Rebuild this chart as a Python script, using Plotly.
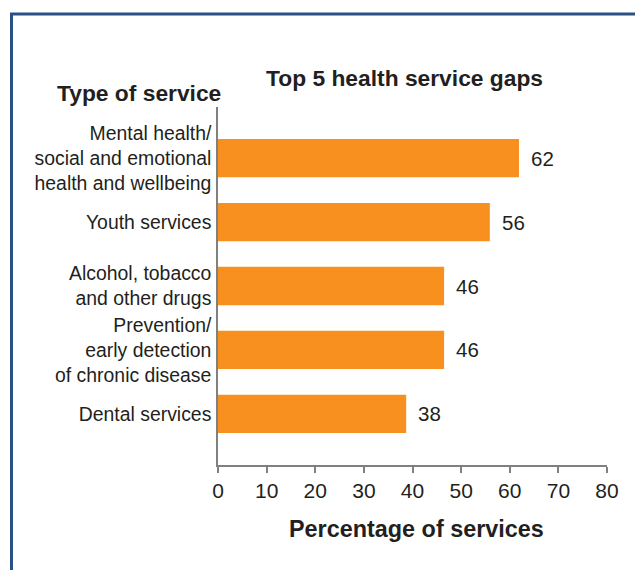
import plotly.graph_objects as go

categories = [
    "Mental health/<br>social and emotional<br>health and wellbeing",
    "Youth services",
    "Alcohol, tobacco<br>and other drugs",
    "Prevention/<br>early detection<br>of chronic disease",
    "Dental services",
]
bar_values = [61.9, 55.9, 46.5, 46.5, 38.7]
label_values = [62, 56, 46, 46, 38]
x_ticks = [0, 10, 20, 30, 40, 50, 60, 70, 80]

W, H = 635, 570
L, R, T, B = 218, 28, 107, 105
pw, ph = W - L - R, H - T - B

def px(x):
    return (x - L) / pw

def py(y):
    return (H - B - y) / ph

TXT = "#231f20"
FONT = "Liberation Sans, Arial, sans-serif"
BORDER = "#2b5083"

fig = go.Figure()
fig.add_trace(go.Bar(
    y=categories, x=bar_values, orientation="h",
    marker=dict(color="#f7901e", line=dict(width=0)),
    width=0.6, hoverinfo="skip",
))

annotations = []
for c, v, lab in zip(categories, bar_values, label_values):
    annotations.append(dict(x=v, y=c, xref="x", yref="y", text=str(lab),
                            showarrow=False, xanchor="left", yanchor="middle",
                            xshift=10, font=dict(size=20.5, color=TXT, family=FONT)))

annotations += [
    dict(x=px(404), y=py(78), xref="paper", yref="paper", text="<b>Top 5 health service gaps</b>",
         showarrow=False, xanchor="center", yanchor="middle", font=dict(size=22.8, color=TXT, family=FONT)),
    dict(x=px(223), y=py(93), xref="paper", yref="paper", text="<b>Type of service</b>",
         showarrow=False, xanchor="right", yanchor="middle", font=dict(size=22.8, color=TXT, family=FONT)),
    dict(x=px(416), y=py(529), xref="paper", yref="paper", text="<b>Percentage of services</b>",
         showarrow=False, xanchor="center", yanchor="middle", font=dict(size=23.4, color=TXT, family=FONT)),
]

shapes = [
    dict(type="line", xref="paper", yref="paper", x0=px(10), x1=px(640), y0=py(14), y1=py(14),
         line=dict(color=BORDER, width=3)),
    dict(type="line", xref="paper", yref="paper", x0=px(11.5), x1=px(11.5), y0=py(13), y1=py(575),
         line=dict(color=BORDER, width=3)),
]

fig.update_layout(
    width=W, height=H,
    margin=dict(l=L, r=R, t=T, b=B, pad=0),
    paper_bgcolor="white", plot_bgcolor="white",
    showlegend=False,
    annotations=annotations, shapes=shapes,
    xaxis=dict(range=[0, 80], tickvals=x_ticks, ticktext=[str(t) for t in x_ticks],
               showgrid=False, zeroline=False, showline=True, linecolor="#808080", linewidth=1.5,
               ticks="outside", ticklen=6, tickwidth=1.5, tickcolor="#808080",
               tickfont=dict(size=21, color=TXT, family=FONT), fixedrange=True),
    yaxis=dict(type="category", range=[4.8, -0.8], showgrid=False, zeroline=False,
               showline=True, linecolor="#808080", linewidth=1.5, ticks="",
               ticklabelstandoff=1,
               tickfont=dict(size=19.4, color=TXT, family=FONT), fixedrange=True),
)

fig.write_html("out.html", config={"displayModeBar": False})
